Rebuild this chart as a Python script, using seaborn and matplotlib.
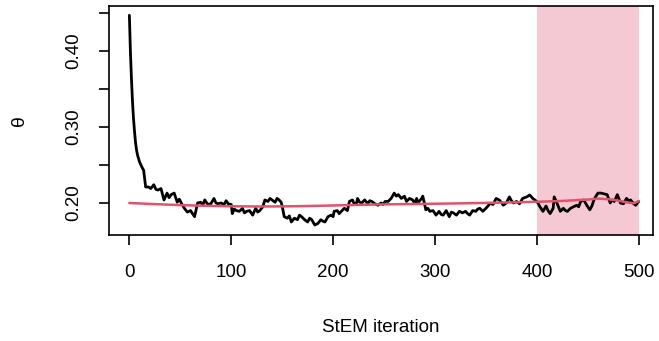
import seaborn as sns
import matplotlib.pyplot as plt

# StEM trace of theta
iters = [0, 1, 2, 3, 4, 5, 6, 7, 8, 10, 12, 14, 15, 16, 19, 21, 24, 26, 28, 31,
         34, 37, 39, 41, 44, 47, 49, 51, 54, 57, 60, 62, 64, 67, 70, 72, 74, 77, 80, 83,
         85, 87, 90, 93, 95, 97, 100, 101, 103, 105, 108, 111, 113, 115, 118, 121, 124, 126, 128, 131,
         133, 136, 138, 140, 143, 145, 147, 149, 150, 152, 155, 157, 159, 162, 165, 167, 169, 172, 175, 177,
         179, 182, 185, 188, 190, 192, 195, 198, 200, 201, 204, 206, 208, 211, 214, 216, 219, 221, 223, 224,
         226, 228, 231, 234, 236, 238, 241, 244, 247, 249, 251, 254, 257, 260, 262, 264, 267, 270, 272, 275,
         278, 280, 282, 283, 285, 287, 288, 291, 293, 295, 298, 301, 304, 306, 308, 311, 314, 316, 318, 321,
         324, 327, 330, 332, 334, 337, 340, 342, 344, 347, 350, 352, 354, 357, 360, 363, 365, 367, 370, 373,
         375, 377, 380, 383, 386, 390, 393, 396, 399, 401, 403, 406, 409, 411, 413, 416, 417, 420, 423, 426,
         428, 430, 433, 436, 439, 441, 443, 446, 449, 452, 454, 456, 458, 460, 463, 466, 469, 472, 474, 476,
         479, 482, 485, 488, 490, 492, 495, 497, 500]
theta = [0.447, 0.400, 0.365, 0.335, 0.312, 0.295, 0.280, 0.270, 0.263, 0.254, 0.248, 0.243, 0.232, 0.221, 0.221, 0.219, 0.224, 0.218, 0.217, 0.219,
         0.204, 0.213, 0.207, 0.211, 0.213, 0.201, 0.205, 0.200, 0.193, 0.188, 0.190, 0.186, 0.182, 0.200, 0.201, 0.197, 0.204, 0.198, 0.199, 0.206,
         0.200, 0.199, 0.200, 0.198, 0.203, 0.199, 0.198, 0.186, 0.192, 0.190, 0.189, 0.193, 0.187, 0.189, 0.190, 0.184, 0.193, 0.188, 0.190, 0.195,
         0.204, 0.202, 0.206, 0.204, 0.201, 0.206, 0.204, 0.201, 0.196, 0.182, 0.180, 0.183, 0.175, 0.180, 0.178, 0.184, 0.182, 0.178, 0.175, 0.180,
         0.178, 0.171, 0.173, 0.178, 0.176, 0.175, 0.182, 0.184, 0.182, 0.189, 0.190, 0.186, 0.189, 0.193, 0.190, 0.202, 0.204, 0.198, 0.200, 0.206,
         0.201, 0.200, 0.204, 0.199, 0.203, 0.202, 0.199, 0.197, 0.200, 0.198, 0.202, 0.202, 0.206, 0.213, 0.209, 0.211, 0.206, 0.209, 0.202, 0.206,
         0.204, 0.200, 0.206, 0.200, 0.203, 0.206, 0.209, 0.191, 0.193, 0.189, 0.190, 0.184, 0.189, 0.185, 0.184, 0.190, 0.182, 0.188, 0.187, 0.184,
         0.189, 0.187, 0.189, 0.186, 0.184, 0.190, 0.189, 0.192, 0.193, 0.189, 0.193, 0.196, 0.1996, 0.198, 0.206, 0.204, 0.201, 0.197, 0.200, 0.208,
         0.203, 0.200, 0.202, 0.199, 0.206, 0.208, 0.2105, 0.206, 0.203, 0.200, 0.195, 0.189, 0.196, 0.190, 0.186, 0.193, 0.208, 0.199, 0.189, 0.193,
         0.190, 0.189, 0.193, 0.195, 0.197, 0.195, 0.202, 0.204, 0.197, 0.191, 0.196, 0.204, 0.209, 0.213, 0.213, 0.212, 0.211, 0.200, 0.204, 0.202,
         0.211, 0.200, 0.199, 0.206, 0.203, 0.204, 0.199, 0.197, 0.202]

# smoothed (running mean) curve
smooth_iters = [0, 25, 50, 75, 100, 125, 150, 175, 200, 225, 250, 275, 300, 325, 350, 375,
                400, 425, 450, 460, 470, 480, 490, 495, 500]
smooth_theta = [0.2000, 0.1985, 0.1972, 0.1963, 0.1957, 0.1954, 0.1955, 0.1960, 0.1967, 0.1975,
                0.1982, 0.1986, 0.1990, 0.1995, 0.2001, 0.2008, 0.2016, 0.2027, 0.2045, 0.2058,
                0.2050, 0.2030, 0.2005, 0.1996, 0.2025]

# averaging window
window = (400, 500)

yticks = [0.20, 0.25, 0.30, 0.35, 0.40, 0.45]
ytick_labels = ['0.20', '', '0.30', '', '0.40', '']
xticks = [0, 100, 200, 300, 400, 500]

sns.set_style('ticks')
plt.rcParams['font.family'] = ['Liberation Sans', 'DejaVu Sans']
plt.rcParams['text.color'] = 'black'
plt.rcParams['axes.labelcolor'] = 'black'

fig = plt.figure(figsize=(6.59, 3.41), dpi=100)
ax = fig.add_axes([0.1654, 0.3109, 0.8255, 0.6716])

ax.axvspan(window[0], window[1], color='#F5C9D3', lw=0, zorder=0)
sns.lineplot(x=iters, y=theta, color='black', lw=2.0, sort=False, estimator=None, ax=ax, zorder=2)
sns.lineplot(x=smooth_iters, y=smooth_theta, color='#DF536B', lw=1.8, sort=False, estimator=None, ax=ax, zorder=3)

ax.set_xlim(-20, 514)
ax.set_ylim(0.1579, 0.4592)
ax.set_xticks(xticks)
ax.set_yticks(yticks)
ax.set_yticklabels(ytick_labels)
plt.setp(ax.get_yticklabels(), rotation=90, va='center')

for sp in ax.spines.values():
    sp.set_visible(True)
    sp.set_color('black')
    sp.set_linewidth(1.2)

ax.tick_params(axis='both', direction='out', length=7, width=1.2, labelsize=13.5,
               colors='black', labelcolor='black')
ax.tick_params(axis='x', pad=14)
ax.tick_params(axis='y', pad=12)

ax.set_xlabel('StEM iteration', fontsize=13.5, va='center')
ax.set_ylabel('θ', fontsize=14, va='center')
ax.xaxis.set_label_coords(0.5, -0.406)
ax.yaxis.set_label_coords(-0.164, 0.5)

fig.savefig('out.png', dpi=100)
